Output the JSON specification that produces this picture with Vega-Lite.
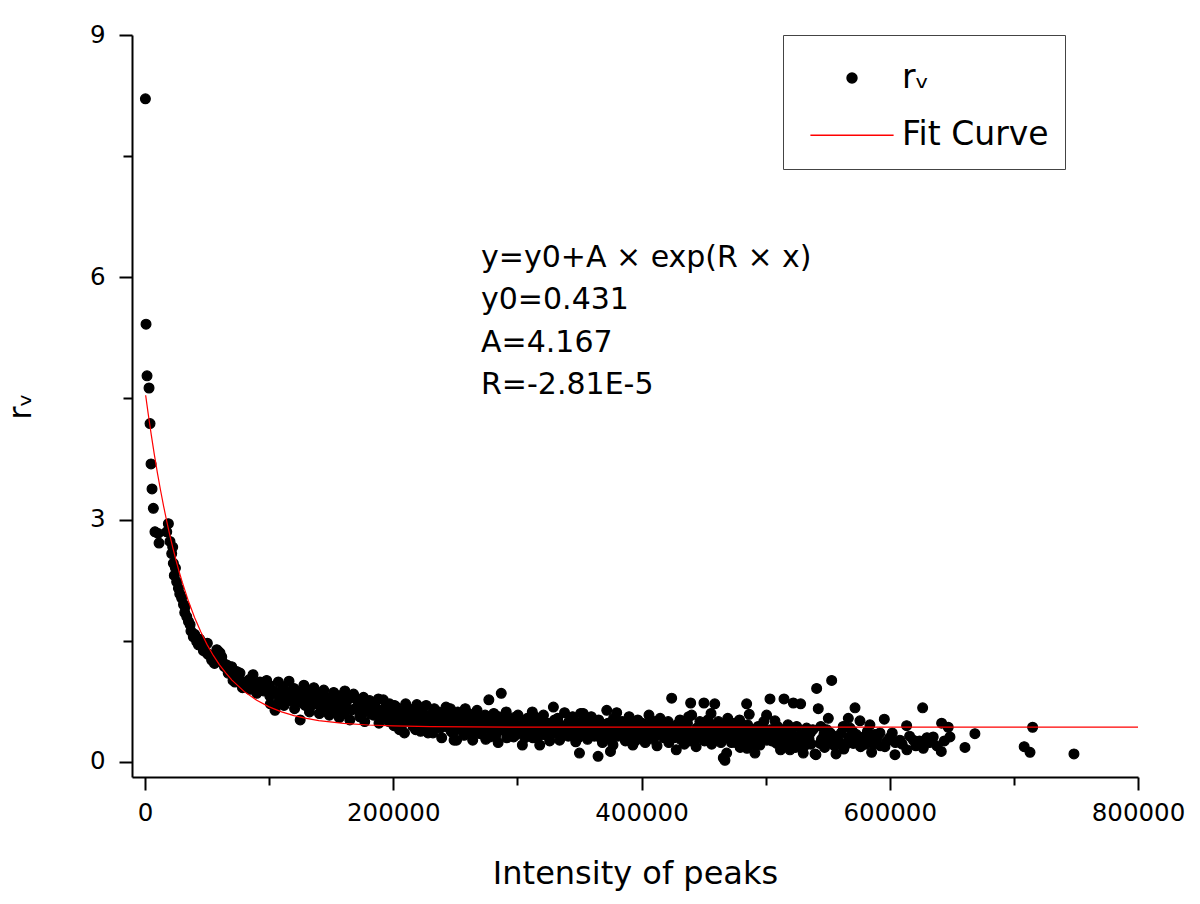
{
  "$schema": "https://vega.github.io/schema/vega-lite/v6.json",
  "width": 1006,
  "height": 742,
  "autosize": {"type": "none"},
  "padding": {"left": 132, "top": 35, "right": 62, "bottom": 127},
  "background": "white",
  "config": {"view": {"stroke": null}, "font": "DejaVu Sans"},
  "datasets": {
    "points": [
      {"x":300,"y":8.21},{"x":806,"y":5.42},{"x":1611,"y":4.78},{"x":3222,"y":4.63},{"x":4028,"y":4.19},{"x":4834,"y":3.69},{"x":5639,"y":3.38},{"x":6700,"y":3.14},{"x":8000,"y":2.85},{"x":11300,"y":2.71},{"x":10500,"y":2.83},{"x":17500,"y":2.85},{"x":18800,"y":2.95},{"x":20100,"y":2.73},{"x":21500,"y":2.58},{"x":22300,"y":2.66},{"x":22800,"y":2.46},{"x":23600,"y":2.31},{"x":24500,"y":2.40},{"x":25500,"y":2.23},{"x":26900,"y":2.15},{"x":28000,"y":2.08},{"x":29500,"y":2.03},{"x":31000,"y":1.95},{"x":32200,"y":1.92},{"x":32000,"y":1.85},{"x":33600,"y":1.80},{"x":35000,"y":1.74},{"x":36300,"y":1.70},{"x":37000,"y":1.62},{"x":38900,"y":1.55},{"x":40000,"y":1.58},{"x":41600,"y":1.49},{"x":43000,"y":1.45},{"x":44000,"y":1.52},{"x":45700,"y":1.43},{"x":47000,"y":1.38},{"x":49700,"y":1.35},{"x":50200,"y":1.47},{"x":51000,"y":1.33},{"x":53700,"y":1.26},{"x":55000,"y":1.30},{"x":56000,"y":1.22},{"x":57800,"y":1.39},{"x":59100,"y":1.37},{"x":60400,"y":1.35},{"x":61800,"y":1.30},{"x":62800,"y":1.23},{"x":64000,"y":1.18},{"x":66000,"y":1.20},{"x":67000,"y":1.10},{"x":68500,"y":1.14},{"x":69800,"y":1.18},{"x":70900,"y":1.01},{"x":72500,"y":0.99},{"x":73800,"y":1.12},{"x":74500,"y":1.05},{"x":76500,"y":1.10},{"x":78000,"y":1.00},{"x":78500,"y":0.92},{"x":80600,"y":0.95},{"x":82000,"y":0.98},{"x":84000,"y":1.02},{"x":84500,"y":0.90},{"x":87000,"y":1.08},{"x":88000,"y":0.96},{"x":90000,"y":0.85},{"x":91300,"y":0.93},{"x":92600,"y":0.99},{"x":95000,"y":0.98},{"x":95500,"y":0.88},{"x":98000,"y":1.01},{"x":99300,"y":0.93},
      {"x":100000,"y":0.95},{"x":100500,"y":0.82},{"x":101000,"y":0.72},{"x":104000,"y":0.88},{"x":104700,"y":0.64},{"x":107400,"y":0.99},{"x":108000,"y":0.78},{"x":111400,"y":0.93},{"x":112000,"y":0.70},{"x":113000,"y":0.84},{"x":116000,"y":1.0},{"x":116500,"y":0.76},{"x":120000,"y":0.91},{"x":120500,"y":0.66},{"x":121000,"y":0.82},{"x":125000,"y":0.52},{"x":124000,"y":0.86},{"x":126000,"y":0.74},{"x":128000,"y":0.95},{"x":129000,"y":0.70},{"x":132000,"y":0.80},{"x":132500,"y":0.62},{"x":133000,"y":0.88},{"x":136000,"y":0.92},{"x":137000,"y":0.72},{"x":140000,"y":0.84},{"x":140500,"y":0.60},{"x":141000,"y":0.76},{"x":144000,"y":0.89},{"x":145000,"y":0.68},{"x":148000,"y":0.79},{"x":148500,"y":0.58},{"x":149000,"y":0.72},{"x":152000,"y":0.86},{"x":153000,"y":0.64},{"x":156000,"y":0.76},{"x":156500,"y":0.55},{"x":157000,"y":0.82},{"x":160000,"y":0.70},{"x":160500,"y":0.60},{"x":161000,"y":0.88},{"x":164000,"y":0.78},{"x":165000,"y":0.52},{"x":168000,"y":0.84},{"x":169000,"y":0.66},{"x":172000,"y":0.72},{"x":173000,"y":0.56},{"x":176000,"y":0.80},{"x":176500,"y":0.62},{"x":177000,"y":0.50},{"x":180000,"y":0.68},{"x":181000,"y":0.76},{"x":184000,"y":0.58},{"x":185000,"y":0.70},{"x":188000,"y":0.78},{"x":188500,"y":0.48},{"x":189000,"y":0.64},{"x":192000,"y":0.77},{"x":193000,"y":0.56},{"x":196000,"y":0.66},{"x":196500,"y":0.50},{"x":197000,"y":0.72},{"x":200000,"y":0.60},{"x":200500,"y":0.45},{"x":201000,"y":0.70},
      {"x":102000,"y":0.86},{"x":106000,"y":0.70},{"x":110000,"y":0.86},{"x":114000,"y":0.78},{"x":118000,"y":0.88},{"x":122000,"y":0.74},{"x":127000,"y":0.84},{"x":130000,"y":0.90},{"x":134000,"y":0.70},{"x":138000,"y":0.80},{"x":142000,"y":0.66},{"x":146000,"y":0.80},{"x":150000,"y":0.70},{"x":154000,"y":0.74},{"x":158000,"y":0.66},{"x":162000,"y":0.74},{"x":166000,"y":0.64},{"x":170000,"y":0.78},{"x":174000,"y":0.66},{"x":178000,"y":0.72},{"x":182000,"y":0.60},{"x":186000,"y":0.66},{"x":190000,"y":0.58},{"x":194000,"y":0.68},{"x":198000,"y":0.56},
      {"x":202000,"y":0.55},{"x":202500,"y":0.68},{"x":205000,"y":0.40},{"x":205500,"y":0.62},{"x":209000,"y":0.36},{"x":209500,"y":0.58},{"x":210000,"y":0.72},{"x":212000,"y":0.50},{"x":212500,"y":0.66},{"x":216000,"y":0.44},{"x":216500,"y":0.60},{"x":219000,"y":0.71},{"x":219500,"y":0.52},{"x":222000,"y":0.38},{"x":222500,"y":0.56},{"x":223000,"y":0.64},{"x":226000,"y":0.48},{"x":226500,"y":0.70},{"x":229000,"y":0.42},{"x":229500,"y":0.58},{"x":232000,"y":0.36},{"x":232500,"y":0.52},{"x":233000,"y":0.66},{"x":236000,"y":0.46},{"x":236500,"y":0.62},{"x":239000,"y":0.30},{"x":239500,"y":0.54},{"x":242000,"y":0.44},{"x":242500,"y":0.68},{"x":243000,"y":0.58},{"x":246000,"y":0.66},{"x":246500,"y":0.38},{"x":247000,"y":0.50},{"x":249000,"y":0.27},{"x":249500,"y":0.56},
      {"x":204000,"y":0.50},{"x":207000,"y":0.46},{"x":214000,"y":0.56},{"x":218000,"y":0.40},{"x":221000,"y":0.48},{"x":225000,"y":0.58},{"x":228000,"y":0.36},{"x":231000,"y":0.46},{"x":235000,"y":0.54},{"x":238000,"y":0.42},{"x":241000,"y":0.50},{"x":245000,"y":0.44},{"x":248000,"y":0.36},{"x":253000,"y":0.46},{"x":256000,"y":0.42},{"x":259000,"y":0.52},{"x":262000,"y":0.34},{"x":266000,"y":0.44},{"x":269000,"y":0.56},{"x":272000,"y":0.40},{"x":276000,"y":0.48},{"x":280000,"y":0.52},{"x":283000,"y":0.34},{"x":286000,"y":0.46},{"x":289000,"y":0.52},{"x":293000,"y":0.40},{"x":296000,"y":0.50},{"x":299000,"y":0.34},{"x":302000,"y":0.44},{"x":306000,"y":0.30},{"x":310000,"y":0.40},{"x":314000,"y":0.56},{"x":317000,"y":0.32},{"x":320000,"y":0.48},{"x":323000,"y":0.40},{"x":327000,"y":0.34},{"x":330000,"y":0.52},{"x":333000,"y":0.42},{"x":336000,"y":0.32},{"x":340000,"y":0.46},{"x":343000,"y":0.36},{"x":346000,"y":0.50},{"x":349000,"y":0.30},
      {"x":251000,"y":0.27},{"x":251500,"y":0.48},{"x":252000,"y":0.62},{"x":254000,"y":0.40},{"x":254500,"y":0.58},{"x":257000,"y":0.33},{"x":257500,"y":0.52},{"x":258000,"y":0.66},{"x":260000,"y":0.44},{"x":260500,"y":0.60},{"x":264000,"y":0.27},{"x":264500,"y":0.38},{"x":265000,"y":0.56},{"x":267000,"y":0.50},{"x":267500,"y":0.64},{"x":270000,"y":0.35},{"x":270500,"y":0.46},{"x":274000,"y":0.58},{"x":274500,"y":0.28},{"x":275000,"y":0.42},{"x":277000,"y":0.77},{"x":277500,"y":0.50},{"x":278000,"y":0.31},{"x":278500,"y":0.44},{"x":281000,"y":0.60},{"x":281500,"y":0.38},{"x":284000,"y":0.48},{"x":284500,"y":0.24},{"x":285000,"y":0.56},{"x":287000,"y":0.85},{"x":287500,"y":0.40},{"x":291000,"y":0.62},{"x":291500,"y":0.30},{"x":292000,"y":0.50},{"x":294000,"y":0.44},{"x":294500,"y":0.36},{"x":297000,"y":0.31},{"x":297500,"y":0.55},{"x":298000,"y":0.46},{"x":300000,"y":0.40},{"x":300500,"y":0.58},{"x":304000,"y":0.21},{"x":304500,"y":0.48},{"x":305000,"y":0.36},{"x":308000,"y":0.54},{"x":308500,"y":0.42},{"x":312000,"y":0.62},{"x":312500,"y":0.30},{"x":313000,"y":0.46},{"x":315000,"y":0.38},{"x":315500,"y":0.52},{"x":318000,"y":0.21},{"x":318500,"y":0.44},{"x":321000,"y":0.58},{"x":321500,"y":0.34},{"x":325000,"y":0.48},{"x":325500,"y":0.40},{"x":326000,"y":0.26},{"x":329000,"y":0.68},{"x":329500,"y":0.44},{"x":332000,"y":0.36},{"x":332500,"y":0.54},{"x":334000,"y":0.27},{"x":334500,"y":0.46},{"x":338000,"y":0.61},{"x":338500,"y":0.40},{"x":341000,"y":0.32},{"x":341500,"y":0.50},{"x":344000,"y":0.44},{"x":344500,"y":0.56},{"x":347000,"y":0.25},{"x":347500,"y":0.38},{"x":350000,"y":0.11},{"x":350500,"y":0.48},{"x":351000,"y":0.60},
      {"x":353000,"y":0.60},{"x":353500,"y":0.34},{"x":354000,"y":0.42},{"x":356000,"y":0.50},{"x":356500,"y":0.28},{"x":359000,"y":0.40},{"x":359500,"y":0.56},{"x":362000,"y":0.32},{"x":362500,"y":0.46},{"x":365000,"y":0.07},{"x":365500,"y":0.52},{"x":366000,"y":0.38},{"x":368000,"y":0.44},{"x":368500,"y":0.24},{"x":372000,"y":0.64},{"x":372500,"y":0.36},{"x":373000,"y":0.48},{"x":375000,"y":0.13},{"x":375500,"y":0.40},{"x":377000,"y":0.21},{"x":377500,"y":0.54},{"x":380000,"y":0.61},{"x":380500,"y":0.44},{"x":381000,"y":0.32},{"x":384000,"y":0.38},{"x":384500,"y":0.50},{"x":387000,"y":0.26},{"x":387500,"y":0.42},{"x":390000,"y":0.56},{"x":390500,"y":0.34},{"x":393000,"y":0.21},{"x":393500,"y":0.46},{"x":396000,"y":0.40},{"x":396500,"y":0.30},{"x":397000,"y":0.52},{"x":400000,"y":0.36},{"x":400500,"y":0.48},{"x":403000,"y":0.24},{"x":403500,"y":0.42},{"x":406000,"y":0.58},{"x":406500,"y":0.34},{"x":409000,"y":0.44},{"x":409500,"y":0.28},{"x":410000,"y":0.50},{"x":412000,"y":0.38},{"x":412500,"y":0.20},{"x":415000,"y":0.54},{"x":415500,"y":0.42},{"x":418000,"y":0.30},{"x":418500,"y":0.46},{"x":421000,"y":0.36},{"x":421500,"y":0.50},{"x":422000,"y":0.24},{"x":424300,"y":0.79},{"x":424800,"y":0.40},{"x":428000,"y":0.15},{"x":428500,"y":0.46},{"x":429000,"y":0.34},{"x":431000,"y":0.52},{"x":431500,"y":0.28},{"x":434000,"y":0.40},{"x":434500,"y":0.22},{"x":437000,"y":0.48},{"x":437500,"y":0.34},{"x":438000,"y":0.56},{"x":439600,"y":0.73},{"x":440400,"y":0.58},{"x":441000,"y":0.30},{"x":444000,"y":0.19},{"x":444500,"y":0.42},{"x":447000,"y":0.50},{"x":447500,"y":0.36},{"x":450300,"y":0.73},{"x":450800,"y":0.26},{"x":451000,"y":0.44},
      {"x":352000,"y":0.38},{"x":355000,"y":0.44},{"x":358000,"y":0.32},{"x":361000,"y":0.50},{"x":364000,"y":0.40},{"x":367000,"y":0.30},{"x":370000,"y":0.46},{"x":374000,"y":0.28},{"x":378000,"y":0.36},{"x":382000,"y":0.50},{"x":386000,"y":0.32},{"x":389000,"y":0.44},{"x":392000,"y":0.38},{"x":395000,"y":0.26},{"x":398000,"y":0.44},{"x":402000,"y":0.30},{"x":405000,"y":0.46},{"x":408000,"y":0.38},{"x":411000,"y":0.32},{"x":414000,"y":0.46},{"x":417000,"y":0.38},{"x":420000,"y":0.30},{"x":423000,"y":0.44},{"x":426000,"y":0.30},{"x":430000,"y":0.40},{"x":433000,"y":0.32},{"x":436000,"y":0.42},{"x":439000,"y":0.26},{"x":442000,"y":0.36},{"x":445000,"y":0.30},{"x":448000,"y":0.42},{"x":452000,"y":0.32},{"x":455000,"y":0.40},{"x":458000,"y":0.28},{"x":461000,"y":0.36},{"x":464000,"y":0.24},{"x":466000,"y":0.32},{"x":470000,"y":0.36},{"x":473000,"y":0.30},{"x":476000,"y":0.24},{"x":478000,"y":0.38},{"x":481000,"y":0.30},{"x":484000,"y":0.24},{"x":488000,"y":0.38},{"x":492000,"y":0.34},{"x":496000,"y":0.28},{"x":499000,"y":0.40},{"x":502000,"y":0.34},{"x":505000,"y":0.26},{"x":510000,"y":0.30},{"x":513000,"y":0.40},{"x":516000,"y":0.24},{"x":521000,"y":0.34},{"x":524000,"y":0.18},{"x":527000,"y":0.28},{"x":531000,"y":0.34},{"x":535000,"y":0.28},{"x":538000,"y":0.40},{"x":545000,"y":0.28},{"x":548000,"y":0.24},{"x":552000,"y":0.36},
      {"x":453000,"y":0.38},{"x":453500,"y":0.52},{"x":456000,"y":0.60},{"x":456500,"y":0.22},{"x":457000,"y":0.46},{"x":459000,"y":0.72},{"x":459500,"y":0.34},{"x":462000,"y":0.50},{"x":462500,"y":0.42},{"x":463000,"y":0.28},{"x":465900,"y":0.05},{"x":465500,"y":0.38},{"x":467200,"y":0.02},{"x":467500,"y":0.46},{"x":468600,"y":0.11},{"x":469000,"y":0.30},{"x":469500,"y":0.54},{"x":472000,"y":0.40},{"x":472500,"y":0.24},{"x":475000,"y":0.48},{"x":475500,"y":0.34},{"x":479000,"y":0.52},{"x":479500,"y":0.18},{"x":480000,"y":0.42},{"x":482000,"y":0.36},{"x":482500,"y":0.28},{"x":484700,"y":0.72},{"x":485000,"y":0.17},{"x":485500,"y":0.46},{"x":486800,"y":0.59},{"x":487500,"y":0.32},{"x":490000,"y":0.40},{"x":490500,"y":0.22},{"x":491400,"y":0.11},{"x":494000,"y":0.44},{"x":494500,"y":0.30},{"x":495400,"y":0.21},{"x":498000,"y":0.36},{"x":498500,"y":0.50},{"x":500800,"y":0.58},{"x":501000,"y":0.27},{"x":503500,"y":0.78},{"x":504000,"y":0.40},{"x":507500,"y":0.51},{"x":507000,"y":0.32},{"x":508900,"y":0.23},{"x":509500,"y":0.44},{"x":511600,"y":0.36},{"x":512000,"y":0.15},{"x":514800,"y":0.78},{"x":515000,"y":0.30},{"x":518000,"y":0.46},{"x":518500,"y":0.20},{"x":519600,"y":0.15},{"x":520000,"y":0.38},{"x":522300,"y":0.73},{"x":522500,"y":0.29},{"x":525000,"y":0.44},{"x":525500,"y":0.24},{"x":528200,"y":0.72},{"x":528500,"y":0.34},{"x":530300,"y":0.11},{"x":530800,"y":0.19},{"x":533000,"y":0.42},{"x":533500,"y":0.28},{"x":536000,"y":0.36},{"x":536500,"y":0.22},{"x":539800,"y":0.10},{"x":540500,"y":0.09},{"x":541100,"y":0.91},{"x":542400,"y":0.66},{"x":543800,"y":0.23},{"x":544500,"y":0.44},{"x":547000,"y":0.34},{"x":547500,"y":0.18},{"x":549200,"y":0.40},{"x":550500,"y":0.54},{"x":551000,"y":0.28},{"x":553200,"y":1.01},
      {"x":555000,"y":0.32},{"x":555500,"y":0.20},{"x":556700,"y":0.10},{"x":557200,"y":0.31},{"x":560000,"y":0.24},{"x":562500,"y":0.44},{"x":563000,"y":0.16},{"x":566600,"y":0.54},{"x":567000,"y":0.30},{"x":570600,"y":0.23},{"x":570000,"y":0.38},{"x":572000,"y":0.67},{"x":574000,"y":0.28},{"x":576000,"y":0.51},{"x":576500,"y":0.19},{"x":580000,"y":0.32},{"x":580500,"y":0.22},{"x":584000,"y":0.46},{"x":584500,"y":0.26},{"x":585400,"y":0.12},{"x":588000,"y":0.34},{"x":592100,"y":0.36},{"x":592500,"y":0.20},{"x":595600,"y":0.53},{"x":596100,"y":0.19},{"x":600000,"y":0.30},{"x":604200,"y":0.09},{"x":604500,"y":0.24},{"x":608200,"y":0.27},{"x":613600,"y":0.45},{"x":613800,"y":0.15},{"x":619000,"y":0.27},{"x":621000,"y":0.20},{"x":626500,"y":0.67},{"x":627000,"y":0.17},{"x":632000,"y":0.24},{"x":635000,"y":0.31},{"x":641800,"y":0.48},{"x":641500,"y":0.13},{"x":647100,"y":0.43},{"x":648500,"y":0.31},{"x":660600,"y":0.18},{"x":668600,"y":0.35},{"x":708300,"y":0.19},{"x":713000,"y":0.12},{"x":715100,"y":0.43},{"x":748400,"y":0.10},
      {"x":558000,"y":0.26},{"x":561000,"y":0.36},{"x":565000,"y":0.22},{"x":568000,"y":0.42},{"x":573000,"y":0.34},{"x":578000,"y":0.26},{"x":582000,"y":0.38},{"x":587000,"y":0.22},{"x":590000,"y":0.30},{"x":598000,"y":0.26},{"x":602000,"y":0.36},{"x":610000,"y":0.22},{"x":616000,"y":0.32},{"x":624000,"y":0.26},{"x":630000,"y":0.30},{"x":638000,"y":0.20},{"x":644000,"y":0.26}
    ],
    "fit": [
      {"x":500,"y":4.540},{"x":2500,"y":4.315},{"x":5000,"y":4.052},{"x":7500,"y":3.806},{"x":10000,"y":3.577},{"x":12500,"y":3.364},{"x":15000,"y":3.165},{"x":17500,"y":2.979},{"x":20000,"y":2.806},{"x":22500,"y":2.645},{"x":25000,"y":2.495},{"x":27500,"y":2.355},{"x":30000,"y":2.225},{"x":35000,"y":1.989},{"x":40000,"y":1.785},{"x":45000,"y":1.608},{"x":50000,"y":1.453},{"x":55000,"y":1.319},{"x":60000,"y":1.203},{"x":65000,"y":1.102},{"x":70000,"y":1.014},{"x":80000,"y":0.871},{"x":90000,"y":0.763},{"x":100000,"y":0.682},{"x":110000,"y":0.620},{"x":120000,"y":0.574},{"x":130000,"y":0.539},{"x":140000,"y":0.513},{"x":160000,"y":0.477},{"x":180000,"y":0.458},{"x":200000,"y":0.446},{"x":230000,"y":0.4375},{"x":260000,"y":0.4338},{"x":300000,"y":0.4319},{"x":400000,"y":0.431},{"x":800000,"y":0.431}
    ]
  },
  "layer": [
    {
      "data": {"name": "points"},
      "mark": {"type": "point", "filled": true, "size": 1000, "strokeWidth": 1.2, "opacity": 1},
      "encoding": {
        "x": {"field": "x", "type": "quantitative", "scale": {"domain": [-10500, 800000], "nice": false, "zero": false},
          "axis": {"orient": "bottom", "values": [0, 200000, 400000, 600000, 800000], "format": "d", "grid": false,
            "labelFont": "DejaVu Sans", "labelFontSize": 24.5, "labelColor": "black", "labelPadding": 11, "labelFlush": false, "labelOverlap": false,
            "tickColor": "black", "tickWidth": 2, "tickSize": 13, "domainColor": "black", "domainWidth": 2,
            "title": "Intensity of peaks", "titleFont": "DejaVu Sans", "titleFontSize": 32, "titleFontWeight": "normal", "titleColor": "black", "titlePadding": 34}},
        "y": {"field": "y", "type": "quantitative", "scale": {"domain": [-0.186, 9], "nice": false, "zero": false},
          "axis": {"orient": "left", "values": [0, 3, 6, 9], "grid": false,
            "labelFont": "DejaVu Sans", "labelFontSize": 24.5, "labelColor": "black", "labelPadding": 14, "labelFlush": false, "labelOverlap": false,
            "tickColor": "black", "tickWidth": 2, "tickSize": 13, "domainColor": "black", "domainWidth": 2,
            "title": "rᵥ", "titleFont": "DejaVu Sans", "titleFontSize": 32, "titleFontWeight": "normal", "titleColor": "black", "titlePadding": 52}},
        "fill": {"datum": "rᵥ", "type": "nominal",
          "scale": {"domain": ["rᵥ", "Fit Curve"], "range": ["black", "#ff0000"]},
          "legend": {"orient": "none", "legendX": 651, "legendY": 0, "title": " ", "titleFontSize": 10, "titlePadding": 0, "direction": "vertical",
            "strokeColor": "#444444", "fillColor": "white", "padding": 16,
            "symbolSize": 1024, "symbolStrokeWidth": 1.5, "symbolOffset": 36, "labelOffset": 33,
            "labelFont": "DejaVu Sans", "labelFontSize": 33, "labelColor": "black", "rowPadding": 23.2,
            "encode": {"legend": {"strokeWidth": {"value": 1.5}}}}},
        "stroke": {"datum": "rᵥ", "type": "nominal",
          "scale": {"domain": ["rᵥ", "Fit Curve"], "range": ["black", "#ff0000"]}},
        "shape": {"datum": "rᵥ", "type": "nominal",
          "scale": {"domain": ["rᵥ", "Fit Curve"], "range": ["M-0.31,0A0.31,0.31,0,1,1,0.31,0A0.31,0.31,0,1,1,-0.31,0Z", "M-2.6,0H2.6"]}}
      }
    },
    {
      "data": {"name": "fit"},
      "mark": {"type": "line", "strokeWidth": 1.2},
      "encoding": {
        "x": {"field": "x", "type": "quantitative", "axis": null},
        "y": {"field": "y", "type": "quantitative", "axis": null},
        "stroke": {"datum": "Fit Curve", "type": "nominal"}
      }
    },
    {
      "data": {"name": "fit"},
      "mark": {"type": "point", "opacity": 0},
      "encoding": {
        "x": {"field": "x", "type": "quantitative",
          "axis": {"orient": "bottom", "values": [100000, 300000, 500000, 700000], "labels": false, "domain": false, "grid": false, "tickColor": "black", "tickWidth": 2, "tickSize": 8, "title": null}},
        "y": {"field": "y", "type": "quantitative",
          "axis": {"orient": "left", "values": [1.5, 4.5, 7.5], "labels": false, "domain": false, "grid": false, "tickColor": "black", "tickWidth": 2, "tickSize": 9, "title": null}}
      }
    },
    {
      "data": {"values": [{}]},
      "mark": {"type": "text", "text": ["y=y0+A × exp(R × x)", "y0=0.431", "A=4.167", "R=-2.81E-5"], "align": "left", "baseline": "alphabetic", "font": "DejaVu Sans", "fontSize": 30, "lineHeight": 42.3, "color": "black"},
      "encoding": {
        "x": {"datum": 270700, "type": "quantitative", "axis": null},
        "y": {"datum": 6.126, "type": "quantitative", "axis": null}
      }
    }
  ],
  "resolve": {"axis": {"x": "independent", "y": "independent"}}
}
